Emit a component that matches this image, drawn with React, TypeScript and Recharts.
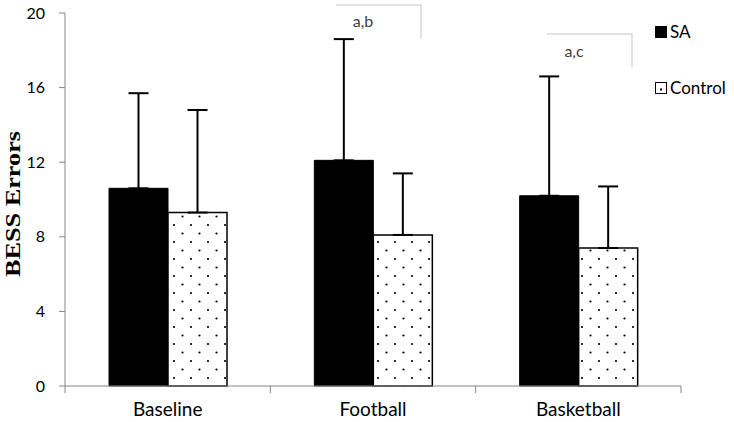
import React from 'react';
import { BarChart, Bar, XAxis, YAxis, ErrorBar, Customized } from 'recharts';

const categories = ['Baseline', 'Football', 'Basketball'];
const saMeans = [10.6, 12.1, 10.2];
const saSD = [5.1, 6.5, 6.4];
const controlMeans = [9.3, 8.1, 7.4];
const controlSD = [5.5, 3.3, 3.3];
const yTicks = [0, 4, 8, 12, 16, 20];

const data = categories.map((c, i) => ({
  name: c,
  SA: saMeans[i],
  saErr: [0, saSD[i]],
  Control: controlMeans[i],
  ctlErr: [0, controlSD[i]],
}));

const W = 734;
const H = 422;
const M = { top: 13, right: 53, bottom: 6, left: 0 };
const Y_W = 65;
const FONT = 'Lato, "Open Sans", sans-serif';
const AXIS = '#868686';

const XTick = (props: any) => {
  const { x, y, payload, index } = props;
  const band = (W - M.left - M.right - Y_W) / categories.length;
  const left = x - band / 2;
  const axisY = y - 8;
  return (
    <g>
      <line x1={left} x2={left} y1={axisY} y2={axisY + 7} stroke={AXIS} />
      {index === categories.length - 1 && (
        <line x1={left + band} x2={left + band} y1={axisY} y2={axisY + 7} stroke={AXIS} />
      )}
      <text x={x} y={y + 22} textAnchor="middle" fontFamily={FONT} fontSize={19} fill="#000">
        {payload.value}
      </text>
    </g>
  );
};

// y label, significance brackets and legend
const Notes = () => (
  <g fontFamily={FONT} fontSize={16} fill="#404040">
    <text x={20} y={204} transform="rotate(-90 20 204)" textAnchor="middle"
      fontFamily='"Liberation Serif", serif' fontWeight="bold" fontSize={21} fill="#000"
      textLength={146} lengthAdjust="spacingAndGlyphs">
      BESS Errors
    </text>
    <polyline points="336,5 421,5 421,38" fill="none" stroke="#d9d9d9" strokeWidth={1.5} />
    <text x={363} y={27} textAnchor="middle">a,b</text>
    <polyline points="547,34 632,34 632,67" fill="none" stroke="#d9d9d9" strokeWidth={1.5} />
    <text x={574} y={57} textAnchor="middle">a,c</text>

    <g fontSize={17} fill="#000">
      <rect x={655} y={26} width={12} height={12} fill="#000" />
      <text x={670} y={38}>SA</text>
      <rect x={655.5} y={82.5} width={11} height={11} fill="#fff" stroke="#000" />
      <rect x={660} y={88.5} width={2} height={2} fill="#000" />
      <text x={670} y={94}>Control</text>
    </g>
  </g>
);

export default function App() {
  return (
    <div style={{ position: 'absolute', left: 0, top: 0, background: '#fff' }}>
      <BarChart width={W} height={H} data={data} margin={M} barCategoryGap={44} barGap={0}>
        <defs>
          <pattern id="dots" patternUnits="userSpaceOnUse" width={17} height={17}>
            <rect width={17} height={17} fill="#fff" />
            <circle cx={4} cy={4} r={1.1} fill="#000" />
            <circle cx={12.5} cy={12.5} r={1.1} fill="#000" />
          </pattern>
        </defs>
        <XAxis dataKey="name" height={30} tick={<XTick />} tickLine={false} axisLine={{ stroke: AXIS }} interval={0} />
        <YAxis
          domain={[0, 20]}
          ticks={yTicks}
          width={Y_W}
          axisLine={{ stroke: AXIS }}
          tickLine={{ stroke: AXIS }}
          tickSize={6}
          tickMargin={14}
          tick={{ fill: '#000', fontSize: 16, fontFamily: FONT }}
        />
        <Bar dataKey="SA" fill="#000" stroke="#000" isAnimationActive={false}>
          <ErrorBar dataKey="saErr" width={10} stroke="#000" strokeWidth={2} direction="y" />
        </Bar>
        <Bar dataKey="Control" fill="url(#dots)" stroke="#000" strokeWidth={1.5} isAnimationActive={false}>
          <ErrorBar dataKey="ctlErr" width={10} stroke="#000" strokeWidth={2} direction="y" />
        </Bar>
        <Customized component={Notes} />
      </BarChart>
    </div>
  );
}
